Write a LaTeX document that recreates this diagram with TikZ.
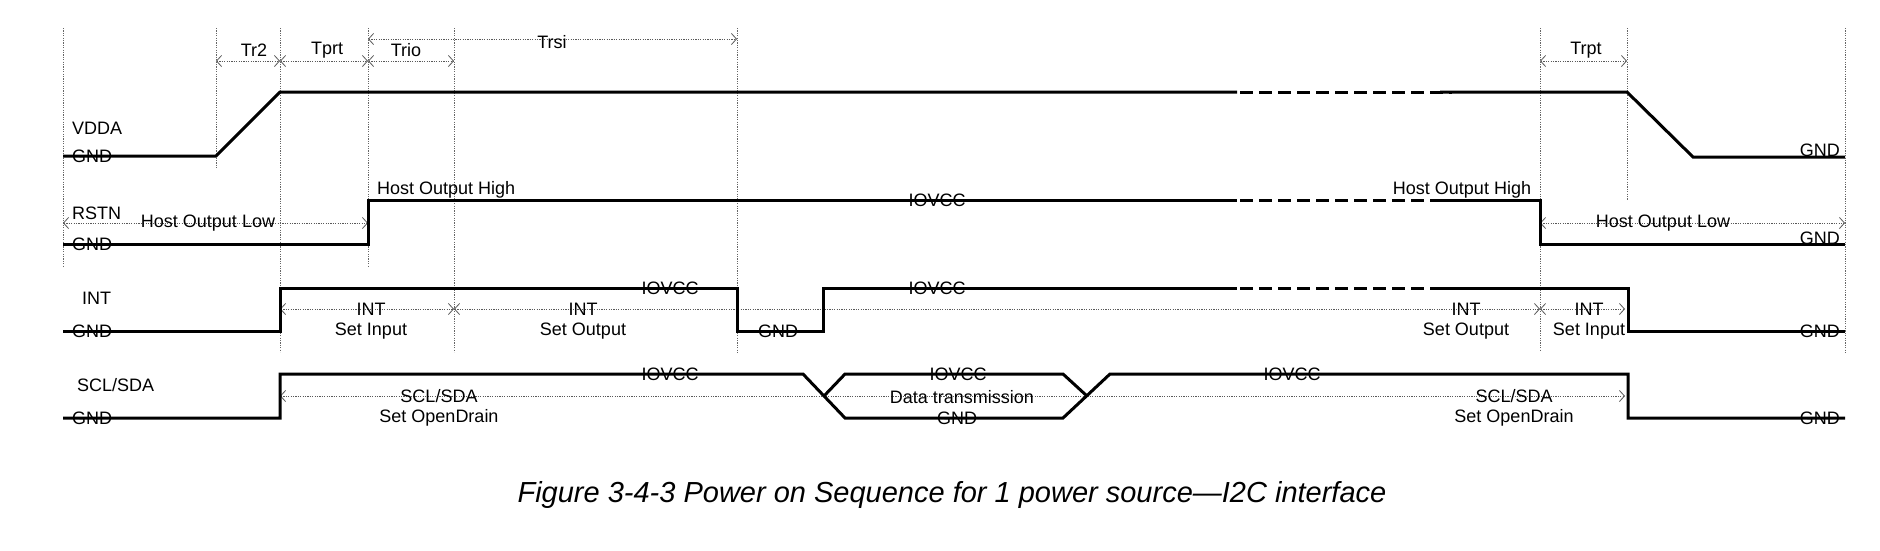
\documentclass[tikz,border=0pt]{standalone}
\usepackage{fontspec}
\setmainfont{Liberation Sans}
\usetikzlibrary{arrows.meta}
\begin{document}
\begin{tikzpicture}[x=1pt,y=-1pt,
  sig/.style={line width=3pt, line join=miter, black},
  sigdash/.style={line width=3pt, black, dash pattern=on 13pt off 6pt},
  guide/.style={draw=black!60, line width=0.8pt, dash pattern=on 1.2pt off 1.2pt},
  dim/.style={draw=black!65, line width=0.8pt, dash pattern=on 1.2pt off 1.2pt,
    {Straight Barb[length=5pt,width=11pt,line width=0.8pt]}-{Straight Barb[length=5pt,width=11pt,line width=0.8pt]}},
  lbl/.style={inner sep=0pt, font=\fontsize{18}{20}\selectfont},
  captxt/.style={inner sep=0pt, font=\fontsize{29}{33}\selectfont\itshape},
]
\useasboundingbox[fill=white] (0,0) rectangle (1880,550);

% ---------- vertical guides ----------
\draw[guide] (63,28) -- (63,267);
\draw[guide] (216,28) -- (216,168);
\draw[guide] (280,28) -- (280,352);
\draw[guide] (368,28) -- (368,267);
\draw[guide] (454,28) -- (454,352);
\draw[guide] (737,28) -- (737,353);
\draw[guide] (1540,28) -- (1540,350);
\draw[guide] (1627,28) -- (1627,200);
\draw[guide] (1845,28) -- (1845,353);

% ---------- timing dimensions ----------
\coordinate (a0) at (216,61); \coordinate (a1) at (280,61);
\coordinate (a2) at (368,61); \coordinate (a3) at (454,61);
\draw[dim] (a0) -- (a1);
\draw[dim] (a1) -- (a2);
\draw[dim] (a2) -- (a3);
\node[lbl] (tr2) at (254,50) {Tr2};
\node[lbl] (tprt) at (327,50) {Tprt};
\node[lbl] (trio) at (406,50) {Trio};
\coordinate (s0) at (368,39); \coordinate (s1) at (737,39);
\draw[dim] (s0) -- (s1);
\node[lbl] (trsi) at (552,42) {Trsi};
\coordinate (p0) at (1540,61); \coordinate (p1) at (1627,61);
\draw[dim] (p0) -- (p1);
\node[lbl] (trpt) at (1586,50) {Trpt};

% ---------- VDDA ----------
\node[lbl, anchor=west] (vdda) at (72,128) {VDDA};
\node[lbl, anchor=west] (vgnd) at (72,156) {GND};
\node[lbl, anchor=south east] (vgndr) at (1840,157) {GND};
\draw[sig] (63,156) -- (216,156) -- (280,92) -- (1237,92);
\draw[sigdash] (1240,92) -- (1452,92);
\draw[sig] (1440,92) -- (1627,92) -- (1693,157) -- (1845,157);

% ---------- RSTN ----------
\node[lbl, anchor=west] (rstn) at (72,213) {RSTN};
\node[lbl, anchor=west] (rgnd) at (72,244) {GND};
\coordinate (r0) at (63,223); \coordinate (r1) at (368,223);
\draw[dim] (r0) -- (r1);
\node[lbl] (rlow) at (208,223) {Host Output Low};
\node[lbl, anchor=west] (rhigh) at (377,190) {Host Output High};
\node[lbl] (riov) at (937,200) {IOVCC};
\node[lbl] (rhigh2) at (1462,190) {Host Output High};
\coordinate (r2) at (1540,223); \coordinate (r3) at (1845,223);
\draw[dim] (r2) -- (r3);
\node[lbl] (rlow2) at (1663,223) {Host Output Low};
\node[lbl, anchor=south east] (rgndr) at (1840,245) {GND};
\draw[sig] (63,244) -- (368,244) -- (368,200) -- (1237,200);
\draw[sigdash] (1240,200) -- (1452,200);
\draw[sig] (1440,200) -- (1540,200) -- (1540,244) -- (1845,244);

% ---------- INT ----------
\node[lbl, anchor=west] (int) at (82,298) {INT};
\node[lbl, anchor=west] (igod) at (72,331) {GND};
\coordinate (i0) at (280,309); \coordinate (i1) at (454,309);
\coordinate (i2) at (1540,309); \coordinate (i3) at (1625,309);
\draw[dim] (i0) -- (i1);
\draw[dim] (i1) -- (i2);
\draw[dim] (i2) -- (i3);
\node[lbl] (iin1) at (371,309) {INT};
\node[lbl] (iin2) at (371,331) {Set Input};
\node[lbl] (iout1) at (583,309) {INT};
\node[lbl] (iout2) at (583,331) {Set Output};
\node[lbl] (iiov) at (670,288) {IOVCC};
\node[lbl] (ignd) at (778,331) {GND};
\node[lbl] (iiov2) at (937,288) {IOVCC};
\node[lbl] (iout3) at (1466,309) {INT};
\node[lbl] (iout4) at (1466,331) {Set Output};
\node[lbl] (iin3) at (1589,309) {INT};
\node[lbl] (iin4) at (1589,331) {Set Input};
\node[lbl, anchor=east] (igndr) at (1840,331) {GND};
\draw[sig] (63,331) -- (280,331) -- (280,288) -- (737,288) -- (737,331) -- (823,331) -- (823,288) -- (1237,288);
\draw[sigdash] (1240,288) -- (1452,288);
\draw[sig] (1440,288) -- (1628,288) -- (1628,331) -- (1845,331);

% ---------- SCL/SDA ----------
\node[lbl, anchor=west] (scl) at (77,385) {SCL/SDA};
\node[lbl, anchor=west] (sgnd) at (72,418) {GND};
\coordinate (c0) at (280,396); \coordinate (c1) at (1625,396);
\draw[dim] (c0) -- (c1);
\node[lbl] (sod1) at (439,396) {SCL/SDA};
\node[lbl] (sod2) at (439,418) {Set OpenDrain};
\node[lbl] (siov) at (670,374) {IOVCC};
\node[lbl] (diov) at (958,374) {IOVCC};
\node[lbl] (data) at (962,397) {Data transmission};
\node[lbl] (dgnd) at (957,418) {GND};
\node[lbl] (siov2) at (1292,374) {IOVCC};
\node[lbl] (sod3) at (1514,396) {SCL/SDA};
\node[lbl] (sod4) at (1514,418) {Set OpenDrain};
\node[lbl, anchor=east] (sgndr) at (1840,418) {GND};
\draw[sig] (63,418) -- (280,418) -- (280,374) -- (803,374) -- (845,418) -- (1063,418) -- (1110,374) -- (1628,374) -- (1628,418) -- (1845,418);
\draw[sig] (824,396) -- (845,374) -- (1063,374) -- (1087,396);

% ---------- caption ----------
\node[captxt] (caption) at (952,495) {Figure 3-4-3 Power on Sequence for 1 power source---I2C interface};
\end{tikzpicture}
\end{document}
